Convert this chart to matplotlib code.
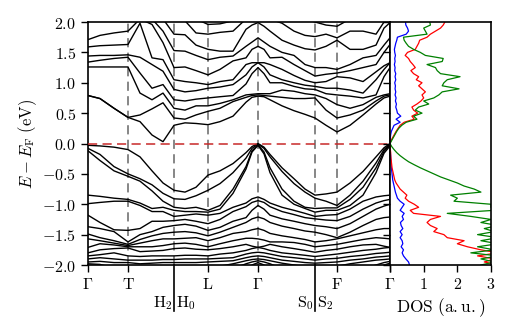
import numpy as np
import matplotlib
matplotlib.use("Agg")
import matplotlib.pyplot as plt
from matplotlib.transforms import blended_transform_factory
from matplotlib.ticker import FuncFormatter

plt.rcParams['mathtext.fontset'] = 'cm'
plt.rcParams['font.family'] = ['DejaVu Serif']
plt.rcParams['font.size'] = 11

# ---------------- data ----------------
# k-path sample positions (path length units)
k_nodes = [0.00, 0.12, 0.26, 0.40, 0.52, 0.64, 0.75, 0.86, 0.97, 1.08, 1.20, 1.32, 1.45,
           1.58, 1.64, 1.70, 1.76, 1.82, 1.94, 2.06, 2.17, 2.27, 2.38, 2.49, 2.62, 2.75, 2.88, 2.96, 3.02]
hs_k = [0.00, 0.40, 0.86, 1.20, 1.70, 2.27, 2.49, 3.02]
tick_k = [0.00, 0.40, 1.20, 1.70, 2.49, 3.02]
tick_labels = [r'$\Gamma$', r'$\mathrm{T}$', r'$\mathrm{L}$', r'$\Gamma$', r'$\mathrm{F}$', r'$\Gamma$']
split_k = [0.86, 2.27]
split_labels = [(r'$\mathrm{H}_2$', r'$\mathrm{H}_0$'), (r'$\mathrm{S}_0$', r'$\mathrm{S}_2$')]

# conduction bands (eV)
cb1 = [0.79,0.74,0.58,0.43,0.36,0.14,0.03,0.30,0.34,0.33,0.31,0.36,0.45,0.68,0.76,0.78,0.77,0.72,0.62,0.54,0.48,0.42,0.30,0.19,0.30,0.47,0.65,0.75,0.78]
cb2 = [0.79,0.74,0.58,0.43,0.47,0.57,0.67,0.42,0.40,0.47,0.53,0.58,0.69,0.76,0.79,0.80,0.79,0.78,0.76,0.74,0.74,0.75,0.55,0.42,0.47,0.55,0.70,0.78,0.80]
cb3 = [1.26,1.26,1.26,1.26,0.83,0.72,0.83,0.58,0.55,0.62,0.62,0.66,0.72,0.80,0.81,0.82,0.82,0.82,0.88,0.86,0.82,0.80,0.74,0.64,0.58,0.64,0.76,0.80,0.82]
cb4 = [1.34,1.37,1.40,1.42,1.16,0.91,0.97,0.72,0.70,0.73,0.75,0.77,0.79,0.98,1.15,1.25,1.15,1.00,1.00,0.94,0.90,0.89,0.82,0.80,0.78,0.75,0.80,1.10,1.25]
cb5 = [1.44,1.45,1.45,1.46,1.42,1.30,1.19,0.89,0.85,0.87,0.91,0.93,0.97,1.13,1.26,1.33,1.26,1.13,1.05,1.00,0.96,0.94,0.91,0.91,0.88,0.83,1.05,1.22,1.33]
cb6 = [1.59,1.61,1.62,1.63,1.98,1.41,1.38,1.05,1.02,1.00,0.97,1.02,1.05,1.30,1.33,1.33,1.33,1.30,1.22,1.12,1.04,1.00,1.02,1.10,1.08,1.02,1.18,1.28,1.33]
cb7 = [1.71,1.78,1.82,1.85,2.05,1.96,1.66,1.25,1.26,1.20,1.13,1.22,1.36,1.41,1.55,1.60,1.55,1.41,1.42,1.30,1.20,1.11,1.14,1.16,1.20,1.25,1.30,1.50,1.63]
cb8 = [2.05,2.05,2.05,2.05,2.10,2.05,1.85,1.53,1.52,1.45,1.38,1.42,1.44,1.60,1.67,1.74,1.67,1.60,1.50,1.45,1.30,1.25,1.25,1.22,1.30,1.41,1.45,1.62,1.74]
cb9 = [2.10,2.10,2.10,2.10,2.15,2.15,2.05,1.80,1.79,1.62,1.55,1.52,1.52,1.88,1.95,1.99,1.93,1.85,1.70,1.62,1.56,1.54,1.60,1.70,1.55,1.55,1.62,1.90,1.99]
cb10 = [2.15,2.15,2.15,2.15,2.20,2.20,2.20,2.05,2.02,1.82,1.80,1.83,1.85,2.05,2.08,2.10,2.08,2.05,1.98,1.85,1.78,1.76,1.80,1.74,1.85,1.85,1.80,2.00,2.10]
cb11 = [2.20,2.20,2.20,2.20,2.25,2.25,2.25,2.25,2.25,2.05,1.96,1.97,2.02,2.20,2.20,2.20,2.20,2.20,2.20,2.10,2.05,2.00,1.95,1.93,2.05,2.10,2.10,2.20,2.20]

# valence bands (eV)
vb1 = [-0.03,-0.04,-0.06,-0.10,-0.22,-0.45,-0.65,-0.77,-0.80,-0.72,-0.52,-0.45,-0.33,-0.15,-0.05,0.00,-0.06,-0.18,-0.40,-0.58,-0.75,-0.85,-0.83,-0.80,-0.65,-0.46,-0.22,-0.07,0.00]
vb2 = [-0.08,-0.18,-0.38,-0.50,-0.58,-0.68,-0.82,-0.91,-0.92,-0.86,-0.77,-0.66,-0.48,-0.24,-0.08,-0.01,-0.08,-0.22,-0.46,-0.66,-0.80,-0.90,-0.95,-1.02,-0.85,-0.62,-0.32,-0.10,-0.01]
vb3 = [-0.12,-0.28,-0.45,-0.54,-0.62,-0.78,-0.95,-1.05,-1.07,-1.05,-1.10,-1.02,-0.75,-0.38,-0.12,-0.02,-0.14,-0.40,-0.75,-0.95,-1.05,-1.07,-1.06,-1.06,-0.92,-0.72,-0.40,-0.13,-0.02]
vb4 = [-0.85,-0.87,-0.90,-0.92,-0.98,-1.07,-1.05,-1.10,-1.12,-1.12,-1.13,-1.08,-0.82,-0.42,-0.14,-0.03,-0.17,-0.48,-0.85,-1.00,-1.07,-1.13,-1.10,-1.10,-1.02,-0.85,-0.48,-0.16,-0.04]
vb5 = [-0.99,-0.97,-0.95,-0.95,-1.02,-1.12,-1.12,-1.20,-1.18,-1.16,-1.18,-1.15,-1.05,-0.98,-0.91,-0.88,-0.92,-0.98,-1.05,-1.10,-1.15,-1.20,-1.18,-1.17,-1.08,-0.95,-0.88,-0.86,-0.85]
vb6 = [-1.18,-1.30,-1.42,-1.43,-1.40,-1.28,-1.28,-1.27,-1.25,-1.28,-1.32,-1.25,-1.12,-1.04,-0.97,-0.94,-0.97,-1.04,-1.12,-1.17,-1.22,-1.24,-1.26,-1.27,-1.20,-1.08,-0.98,-0.94,-0.92]
vb7 = [-1.37,-1.40,-1.45,-1.62,-1.50,-1.45,-1.38,-1.35,-1.33,-1.36,-1.43,-1.38,-1.28,-1.22,-1.10,-1.02,-1.08,-1.18,-1.24,-1.28,-1.32,-1.35,-1.37,-1.40,-1.32,-1.20,-1.08,-1.03,-1.00]
vb8 = [-1.49,-1.55,-1.60,-1.66,-1.58,-1.52,-1.48,-1.46,-1.45,-1.47,-1.52,-1.46,-1.38,-1.30,-1.24,-1.21,-1.24,-1.30,-1.36,-1.40,-1.44,-1.46,-1.50,-1.55,-1.46,-1.35,-1.25,-1.22,-1.21]
vb9 = [-1.57,-1.60,-1.64,-1.68,-1.64,-1.60,-1.57,-1.57,-1.56,-1.55,-1.60,-1.55,-1.48,-1.45,-1.42,-1.40,-1.43,-1.48,-1.52,-1.55,-1.58,-1.62,-1.60,-1.57,-1.52,-1.47,-1.42,-1.40,-1.40]
vb10 = [-1.71,-1.65,-1.67,-1.70,-1.70,-1.70,-1.68,-1.65,-1.64,-1.66,-1.70,-1.65,-1.60,-1.56,-1.56,-1.57,-1.59,-1.62,-1.62,-1.63,-1.66,-1.70,-1.68,-1.66,-1.62,-1.58,-1.55,-1.56,-1.57]
vb11 = [-1.80,-1.75,-1.73,-1.72,-1.78,-1.77,-1.76,-1.73,-1.72,-1.74,-1.75,-1.73,-1.70,-1.66,-1.69,-1.71,-1.69,-1.66,-1.70,-1.73,-1.76,-1.79,-1.76,-1.74,-1.70,-1.67,-1.66,-1.69,-1.71]
vb12 = [-1.85,-1.83,-1.80,-1.85,-1.86,-1.85,-1.85,-1.85,-1.84,-1.84,-1.85,-1.82,-1.80,-1.76,-1.73,-1.71,-1.73,-1.76,-1.80,-1.82,-1.84,-1.86,-1.84,-1.82,-1.79,-1.76,-1.74,-1.72,-1.71]
vb13 = [-1.90,-1.88,-1.90,-1.92,-1.92,-1.92,-1.91,-1.91,-1.90,-1.90,-1.90,-1.89,-1.88,-1.82,-1.80,-1.79,-1.80,-1.82,-1.86,-1.88,-1.90,-1.92,-1.90,-1.89,-1.86,-1.84,-1.81,-1.80,-1.79]
vb14 = [-1.95,-1.94,-1.96,-1.96,-1.98,-1.97,-1.96,-1.96,-1.96,-1.96,-1.95,-1.94,-1.93,-1.88,-1.86,-1.85,-1.86,-1.88,-1.92,-1.94,-1.96,-1.97,-1.96,-1.95,-1.92,-1.90,-1.87,-1.86,-1.85]
vb15 = [-1.98,-1.99,-2.05,-2.05,-2.05,-2.05,-2.05,-2.05,-2.05,-2.05,-2.05,-2.02,-1.98,-1.93,-1.91,-1.90,-1.91,-1.93,-1.97,-2.00,-2.03,-2.05,-2.03,-2.02,-1.98,-1.95,-1.92,-1.91,-1.90]
vb16 = [-2.10,-2.10,-2.10,-2.10,-2.10,-2.10,-2.10,-2.10,-2.10,-2.10,-2.10,-2.10,-2.06,-1.98,-1.95,-1.93,-1.95,-1.98,-2.06,-2.10,-2.10,-2.10,-2.10,-2.10,-2.10,-2.06,-2.00,-1.96,-1.94]
vb17 = [-2.15,-2.15,-2.15,-2.15,-2.15,-2.15,-2.15,-2.15,-2.15,-2.15,-2.15,-2.15,-2.15,-2.08,-2.00,-1.96,-2.00,-2.08,-2.15,-2.15,-2.15,-2.15,-2.15,-2.15,-2.15,-2.15,-2.05,-2.00,-1.97]

# DOS (a.u.) sampled on an even energy grid from -2 to 2 eV
dos_blue = [0.58,0.55,0.47,0.40,0.36,0.40,0.33,0.38,0.36,0.30,
            0.36,0.30,0.38,0.33,0.31,0.40,0.36,0.42,0.30,0.36,
            0.42,0.30,0.22,0.19,0.16,0.14,0.12,0.10,0.08,0.07,
            0.06,0.05,0.04,0.03,0.03,0.02,0.02,0.01,0.01,0.00,
            0.00,
            0.00,0.01,0.02,0.04,0.08,0.12,0.30,0.18,0.32,0.22,
            0.20,0.17,0.19,0.16,0.18,0.15,0.17,0.15,0.16,0.14,
            0.17,0.15,0.17,0.14,0.15,0.13,0.15,0.14,0.16,0.14,
            0.13,0.15,0.17,0.20,0.22,0.48,0.55,0.52,0.47,0.46]
dos_red = [3.2,2.8,3.1,2.6,3.2,2.7,2.3,2.0,2.2,1.7,
           1.6,1.3,1.4,1.2,1.1,1.2,1.5,0.7,0.6,0.85,
           0.72,0.55,0.45,0.50,0.40,0.30,0.24,0.18,0.14,0.12,
           0.10,0.08,0.06,0.05,0.04,0.03,0.02,0.02,0.01,0.01,
           0.00,
           0.03,0.08,0.13,0.18,0.24,0.30,0.42,0.72,0.65,0.82,
           0.70,0.65,0.80,0.92,1.00,0.95,1.05,0.95,0.85,0.95,
           0.78,0.85,0.70,0.62,0.75,0.68,0.60,0.55,0.45,0.52,
           0.75,0.80,0.85,0.88,1.10,1.20,1.35,1.50,1.58,1.63]
dos_green = [2.7,3.1,2.7,3.2,2.4,3.1,2.6,3.2,2.7,3.2,
             2.6,3.1,2.8,3.2,2.7,3.0,2.4,1.7,3.1,3.0,
             3.0,1.9,2.0,1.8,2.7,2.5,2.2,2.0,1.75,1.5,
             1.3,1.1,0.9,0.72,0.55,0.42,0.30,0.20,0.12,0.05,
             0.00,
             0.05,0.10,0.15,0.20,0.26,0.35,0.48,0.80,0.70,0.95,
             0.75,0.85,1.15,1.00,1.30,1.45,1.55,2.05,1.55,1.60,
             1.70,2.08,1.50,1.40,1.35,1.10,1.55,1.58,1.05,0.90,
             0.70,0.55,0.48,0.42,0.40,1.10,1.05,1.00,1.20,1.18]
y_ticks = [-2.0, -1.5, -1.0, -0.5, 0.0, 0.5, 1.0, 1.5, 2.0]
dos_ticks = [0, 1, 2, 3]

# ---------------- figure ----------------
fig = plt.figure(figsize=(5.14, 3.33), dpi=100)
ax = fig.add_axes([0.1712, 0.2042, 0.5876, 0.7297])
axd = fig.add_axes([0.7588, 0.2042, 0.1965, 0.7297])

bands = [cb1, cb2, cb3, cb4, cb5, cb6, cb7, cb8, cb9, cb10, cb11,
         vb1, vb2, vb3, vb4, vb5, vb6, vb7, vb8, vb9, vb10, vb11, vb12,
         vb13, vb14, vb15, vb16, vb17]
for b in bands:
    ax.plot(k_nodes, b, color='black', lw=1.0, zorder=3)

for k in hs_k[1:-1]:
    ax.axvline(k, color='0.4', lw=1.1, ls=(0, (6, 3.5)), zorder=1)
ax.axhline(0.0, color='#c82828', lw=1.1, ls=(0, (6, 3.5)), zorder=4)

ax.set_xlim(hs_k[0], hs_k[-1])
ax.set_ylim(-2, 2)
ax.set_xticks(tick_k)
ax.set_xticklabels(tick_labels)
ax.set_yticks(y_ticks)
ax.yaxis.set_major_formatter(FuncFormatter(lambda v, p: r'$%.1f$' % v))
ax.tick_params(direction='out', length=5, width=1.0, labelsize=11.5)
ax.tick_params(axis='x', pad=3)
ax.set_ylabel(r'$E - E_{\mathrm{F}}\ \mathrm{(eV)}$', fontsize=12, labelpad=2)
for s in ax.spines.values():
    s.set_linewidth(1.2)

trans = blended_transform_factory(ax.transData, ax.transAxes)
for k, (lab_l, lab_r) in zip(split_k, split_labels):
    ax.plot([k, k], [0.0, -0.19], transform=trans, color='black', lw=1.2, clip_on=False)
    ax.text(k - 0.015, -0.155, lab_l, transform=trans, ha='right', va='center', fontsize=11.5)
    ax.text(k + 0.015, -0.155, lab_r, transform=trans, ha='left', va='center', fontsize=11.5)

e_blue = np.linspace(-2, 2, len(dos_blue))
e_red = np.linspace(-2, 2, len(dos_red))
e_green = np.linspace(-2, 2, len(dos_green))
axd.plot(dos_blue, e_blue, color='#0000ff', lw=0.9)
axd.plot(dos_red, e_red, color='#ff0000', lw=0.9)
axd.plot(dos_green, e_green, color='#008000', lw=0.9)
axd.set_xlim(0, 3)
axd.set_ylim(-2, 2)
axd.set_xticks(dos_ticks)
axd.xaxis.set_major_formatter(FuncFormatter(lambda v, p: '' if v == 0 else r'$%d$' % v))
axd.set_yticks(y_ticks)
axd.set_yticklabels([])
axd.tick_params(direction='out', length=5, width=1.0, labelsize=11.5)
axd.tick_params(axis='x', pad=3)
axd.set_xlabel(r'$\mathrm{DOS\ (a.u.)}$', fontsize=12.5, labelpad=2)
for s in axd.spines.values():
    s.set_linewidth(1.2)

fig.savefig('out.png', dpi=100)
